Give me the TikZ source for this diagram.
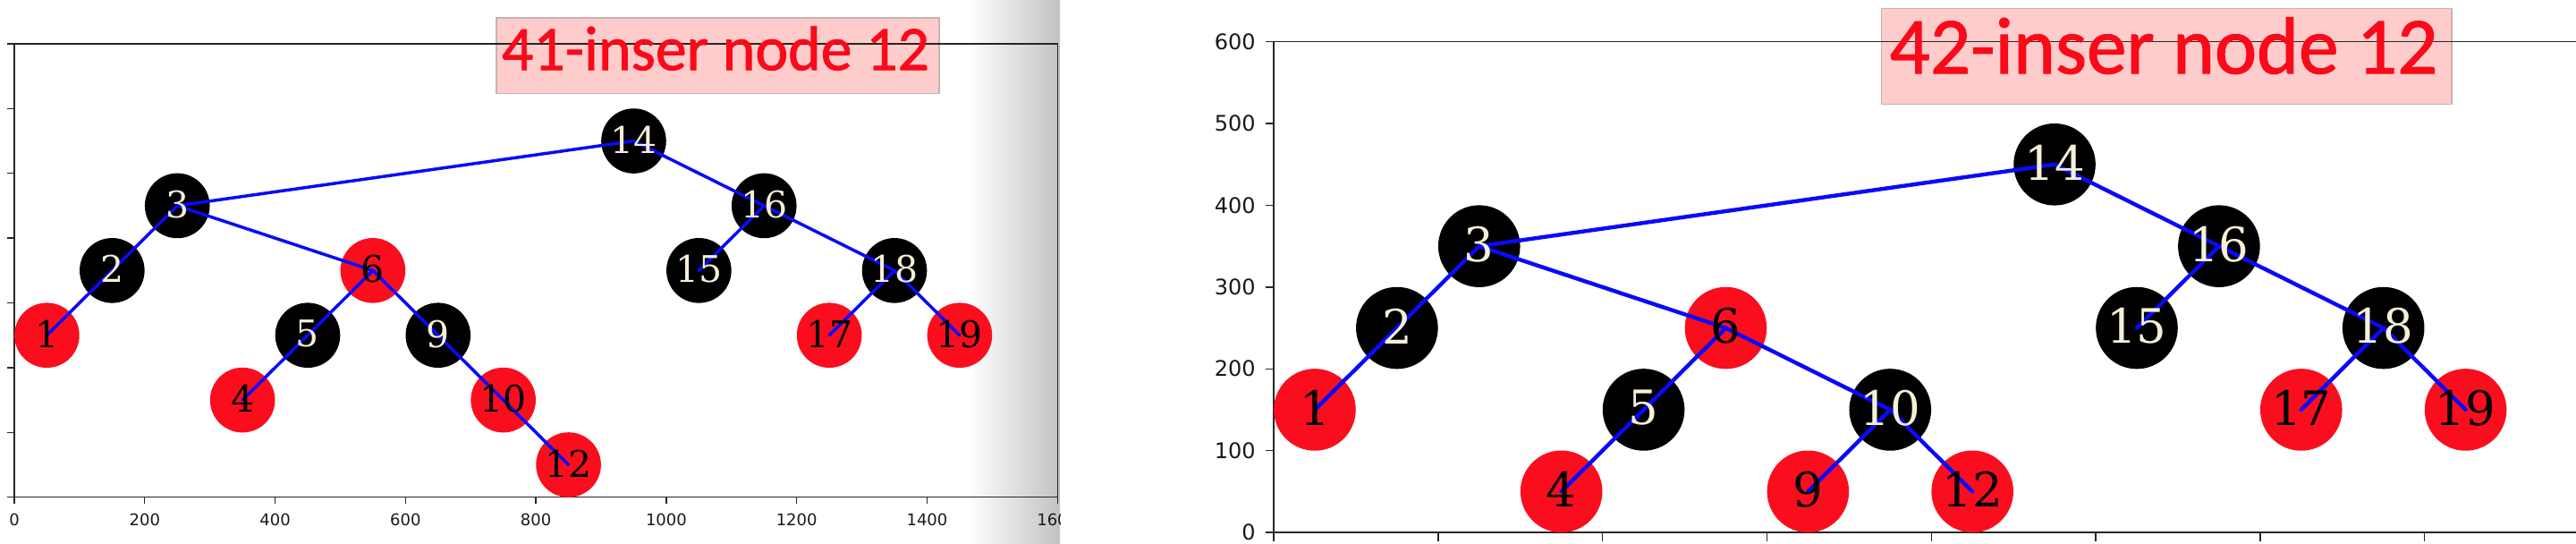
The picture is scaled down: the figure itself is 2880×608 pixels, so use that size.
\documentclass[tikz,border=0pt]{standalone}
\usepackage{fontspec}
\newfontfamily\nodefont{DejaVu Serif}
\newfontfamily\tickfont{DejaVu Sans}
\newfontfamily\titlefont[FakeBold=1.2]{Carlito}
\definecolor{nred}{RGB}{250,14,30}
\definecolor{ncream}{RGB}{245,240,215}
\definecolor{boxfill}{RGB}{255,204,204}
\definecolor{boxedge}{RGB}{200,178,178}
\definecolor{edgeblue}{RGB}{10,10,250}
\definecolor{shadegray}{RGB}{194,194,194}
\definecolor{titlered}{RGB}{250,10,25}
\tikzset{
  axis/.style={draw=black!85, line width=0.7pt},
  titlebox/.style={draw=boxedge, fill=boxfill, line width=0.6pt, inner sep=0pt},
  titletext/.style={text=titlered, inner sep=0pt, anchor=base},
  ticklab/.style={inner sep=0pt, text=black!90},
  edge/.style={draw=edgeblue, line cap=round},
}
\def\leftnodes{14/950/550/bc/bt, 3/250/450/bc/bt, 16/1150/450/bc/bt, 2/150/350/bc/bt, 6/550/350/rc/rt, 15/1050/350/bc/bt, 18/1350/350/bc/bt, 1/50/250/rc/rt, 5/450/250/bc/bt, 9/650/250/bc/bt, 17/1250/250/rc/rt, 19/1450/250/rc/rt, 4/350/150/rc/rt, 10/750/150/rc/rt, 12/850/50/rc/rt}
\def\rightnodes{14/950/450/bc/bt, 3/250/350/bc/bt, 16/1150/350/bc/bt, 2/150/250/bc/bt, 6/550/250/rc/rt, 15/1050/250/bc/bt, 18/1350/250/bc/bt, 1/50/150/rc/rt, 5/450/150/bc/bt, 10/750/150/bc/bt, 17/1250/150/rc/rt, 19/1450/150/rc/rt, 4/350/50/rc/rt, 9/650/50/rc/rt, 12/850/50/rc/rt}
\begin{document}
\begin{tikzpicture}[x=0.5pt,y=-0.5pt]
\useasboundingbox (0,0) rectangle (2880,608);
% window shadow between the panels
\shade[left color=white, right color=shadegray] (1083,0) rectangle (1185,608);
% title boxes
\node[titlebox, minimum width=247.5pt, minimum height=42.15pt] (box41) at (802.5,62.15) {};
\node[titlebox, minimum width=318.7pt, minimum height=53.3pt] (box42) at (2422.3,63) {};
% ---------- left axes ----------
\draw[axis] (16,49) rectangle (1182.3,555.7);
\foreach \i in {0,...,7} \draw[axis] (16,{555.7-72.39*\i}) -- ++(-8,0);
\foreach \i in {0,...,8} \draw[axis] ({16+145.78*\i},555.7) -- ++(0,7);
\begin{scope}
\clip (0,0) rectangle (1185,608);
\foreach \v [count=\i from 0] in {0,200,400,600,800,1000,1200,1400,1600}
  \node[ticklab, anchor=north, font=\tickfont\fontsize{9}{10}\selectfont] (xl\i) at ({16+145.78*\i},574) {\v};
\end{scope}
% ---------- right axes ----------
\draw[axis] (2880,46.7) -- (1424,46.7) -- (1424,595) -- (2880,595);
\foreach \v [count=\i from 0] in {0,100,200,300,400,500,600} {
  \draw[axis] (1424,{595-91.38*\i}) -- ++(-9,0);
  \node[ticklab, anchor=east, font=\tickfont\fontsize{12}{14}\selectfont] (yr\i) at (1404,{595-91.38*\i}) {\v};
}
\foreach \i in {0,...,7} \draw[axis] ({1424+183.8*\i},595) -- ++(0,10);
% ---------- left tree ----------
\begin{scope}[shift={(8pt,-277.85pt)}, x=0.36445pt, y=0.36195pt,
  bc/.style={circle, fill=black, inner sep=0pt, minimum size=36.3pt},
  rc/.style={circle, fill=nred, inner sep=0pt, minimum size=36.3pt},
  bt/.style={inner sep=0pt, text=ncream, font=\nodefont\fontsize{20.5}{24}\selectfont},
  rt/.style={inner sep=0pt, text=black, font=\nodefont\fontsize{20.5}{24}\selectfont}]
\foreach \n/\x/\y/\c/\t in \leftnodes \node[\c] (L\n) at (\x,\y) {};
\foreach \a/\b in {14/3,14/16,3/2,2/1,3/6,6/5,5/4,6/9,9/10,10/12,16/15,16/18,18/17,18/19}
  \draw[edge, line width=1.75pt] (L\a.center) -- (L\b.center);
\foreach \n/\x/\y/\c/\t in \leftnodes \node[\t, yshift=0.8pt] (LT\n) at (L\n.center) {\n};
\end{scope}
% ---------- right tree ----------
\begin{scope}[shift={(712pt,-297.5pt)}, x=0.4595pt, y=0.4569pt,
  bc/.style={circle, fill=black, inner sep=0pt, minimum size=45.8pt},
  rc/.style={circle, fill=nred, inner sep=0pt, minimum size=45.8pt},
  bt/.style={inner sep=0pt, text=ncream, font=\nodefont\fontsize{26.5}{30}\selectfont},
  rt/.style={inner sep=0pt, text=black, font=\nodefont\fontsize{26.5}{30}\selectfont}]
\foreach \n/\x/\y/\c/\t in \rightnodes \node[\c] (R\n) at (\x,\y) {};
\foreach \a/\b in {14/3,14/16,3/2,2/1,3/6,6/5,5/4,6/10,10/9,10/12,16/15,16/18,18/17,18/19}
  \draw[edge, line width=2.2pt] (R\a.center) -- (R\b.center);
\foreach \n/\x/\y/\c/\t in \rightnodes \node[\t, yshift=1pt] (RT\n) at (R\n.center) {\n};
\end{scope}
% ---------- titles ----------
\node[titletext] (title41) at (800,78.3) {\resizebox{239pt}{24.5pt}{\titlefont 41-inser node 12}};
\node[titletext] (title42) at (2419,82.2) {\resizebox{306.5pt}{31.4pt}{\titlefont 42-inser node 12}};
\end{tikzpicture}
\end{document}
